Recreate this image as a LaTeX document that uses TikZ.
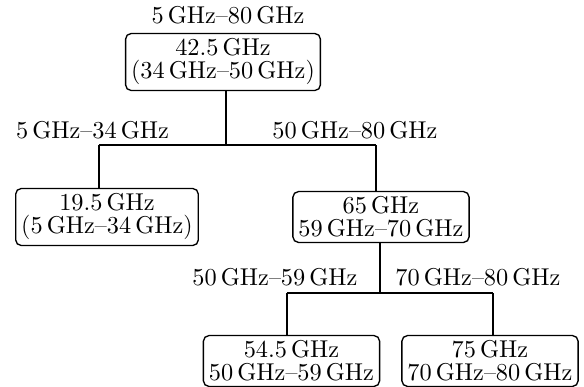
\documentclass[tikz,border=0pt]{standalone}
\newcommand{\ghz}[1]{$#1\,\mathrm{GHz}$}
\tikzset{
  every node/.style={font=\fontsize{11}{10.4}\selectfont},
  band/.style={draw, rounded corners=2.5pt, line width=0.6pt, align=center,
    inner xsep=2.5pt, inner ysep=2.5pt},
  rangelabel/.style={inner sep=0pt},
  wire/.style={line width=0.6pt}
}
\begin{document}
\begin{tikzpicture}[x=0.45pt, y=-0.45pt]
  \useasboundingbox (0,0) rectangle (584,387);

  % frequency bands (boxes)
  \node[band] (root)  at (223,62)  {\ghz{42.5}\\(\ghz{34}--\ghz{50})};
  \node[band] (left)  at (107,217) {\ghz{19.5}\\(\ghz{5}--\ghz{34})};
  \node[band] (right) at (381,217) {\ghz{65}\\\ghz{59}--\ghz{70}};
  \node[band] (low)   at (291.5,361) {\ghz{54.5}\\\ghz{50}--\ghz{59}};
  \node[band] (high)  at (490,361) {\ghz{75}\\\ghz{70}--\ghz{80}};

  % range labels
  \node[rangelabel] (lroot)  at (228,15)  {\ghz{5}--\ghz{80}};
  \node[rangelabel] (lleft)  at (92.5,130) {\ghz{5}--\ghz{34}};
  \node[rangelabel] (lright) at (355,130) {\ghz{50}--\ghz{80}};
  \node[rangelabel] (llow)   at (275,277) {\ghz{50}--\ghz{59}};
  \node[rangelabel] (lhigh)  at (478,277) {\ghz{70}--\ghz{80}};

  % branching points
  \coordinate (s1) at (226,145);
  \coordinate (s1l) at (99,145);
  \coordinate (s1r) at (376,145);
  \coordinate (s2) at (380,293);
  \coordinate (s2l) at (287,293);
  \coordinate (s2h) at (493,293);

  % first split
  \draw[wire] (root.south -| s1) -- (s1);
  \draw[wire] (s1l) -- (s1r);
  \draw[wire] (s1l) -- (left.north -| s1l);
  \draw[wire] (s1r) -- (right.north -| s1r);

  % second split
  \draw[wire] (right.south -| s2) -- (s2);
  \draw[wire] (s2l) -- (s2h);
  \draw[wire] (s2l) -- (low.north -| s2l);
  \draw[wire] (s2h) -- (high.north -| s2h);
\end{tikzpicture}
\end{document}
